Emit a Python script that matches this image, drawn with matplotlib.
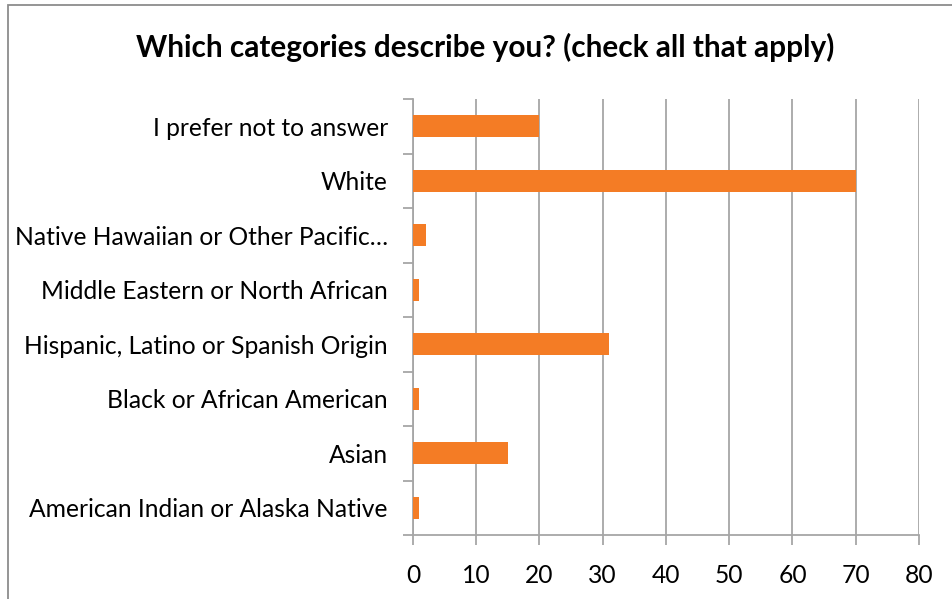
import matplotlib.pyplot as plt
from matplotlib import patches

# survey responses, bottom to top as drawn
categories = ['American Indian or Alaska Native', 'Asian', 'Black or African American',
              'Hispanic, Latino or Spanish Origin', 'Middle Eastern or North African',
              'Native Hawaiian or Other Pacific\u2026', 'White', 'I prefer not to answer']
counts = [1, 15, 1, 31, 1, 2, 70, 20]
xticks = [0, 10, 20, 30, 40, 50, 60, 70, 80]

plt.rcParams['font.family'] = ['Lato', 'DejaVu Sans']
grey = '#a6a6a6'

fig = plt.figure(figsize=(9.52, 5.99), dpi=100)
ax = fig.add_axes([0.4338, 0.1068, 0.5315, 0.7279])

ax.barh(range(len(categories)), counts, height=0.4, color='#f47c25', zorder=3)

ax.set_xlim(0, 80)
ax.set_ylim(-0.5, len(categories) - 0.5)
ax.set_xticks(xticks)
ax.set_yticks(range(len(categories)))
ax.set_yticklabels(categories)
# ticks sit between categories, labels in the middle
ax.set_yticks([i - 0.5 for i in range(len(categories) + 1)], minor=True)
ax.tick_params(axis='y', which='major', length=0, pad=18, labelsize=17.7)
ax.tick_params(axis='y', which='minor', length=7, color=grey, width=1.3)
ax.tick_params(axis='x', length=7, color=grey, width=1.3, labelsize=17.7, pad=14)
ax.grid(axis='x', color=grey, linewidth=1.3, zorder=0)

for side in ['top', 'right']:
    ax.spines[side].set_visible(False)
for side in ['left', 'bottom']:
    ax.spines[side].set_color(grey)
    ax.spines[side].set_linewidth(1.3)

fig.text(0.51, 0.92, 'Which categories describe you? (check all that apply)',
         ha='center', va='center', fontsize=21.4, fontweight='bold')

# outer chart frame
frame = patches.Rectangle((8 / 952, -0.1), 1.2, 1 - 5 / 599 + 0.1, transform=fig.transFigure,
                          fill=False, edgecolor='#8c8c8c', linewidth=1.3)
fig.patches.append(frame)

plt.savefig('out.png', dpi=100)
